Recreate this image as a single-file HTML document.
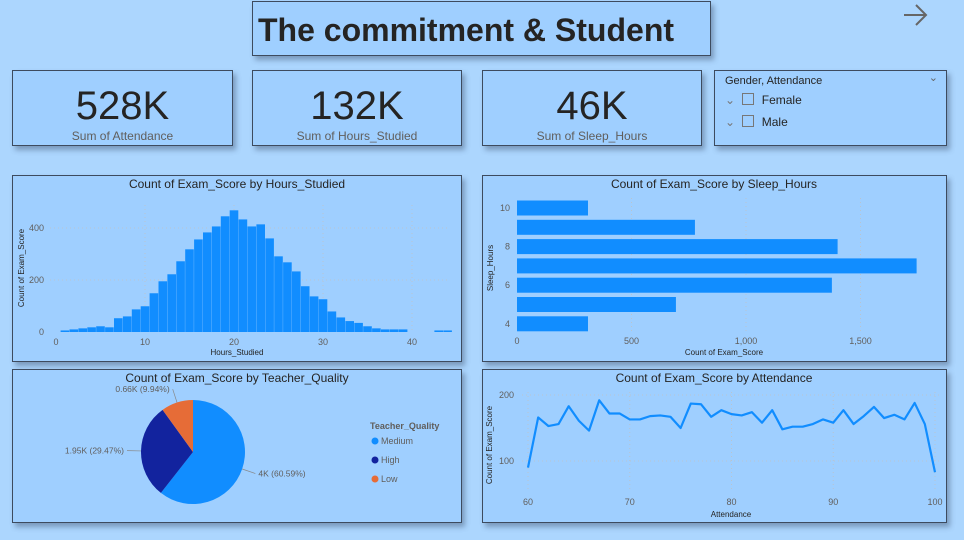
<!DOCTYPE html>
<html><head><meta charset="utf-8"><style>
body{margin:0;width:964px;height:540px;background:#acd6fe;font-family:"Liberation Sans",sans-serif;position:relative;overflow:hidden}
.card{position:absolute;background:#9fcfff;border:1px solid #3d4b5f;box-sizing:border-box;box-shadow:3px 4px 5px rgba(60,80,110,.45)}
.kpi{text-align:center}
.kpi .v{font-size:40px;color:#252423;margin-top:12px;line-height:46px}
.kpi .l{font-size:12px;color:#605e5c;margin-top:0px}
svg text{font-family:"Liberation Sans",sans-serif}
</style></head><body>
<div class="card" style="left:252px;top:1px;width:459px;height:55px;">
<div style="font-size:32px;font-weight:bold;color:#252423;padding:10px 0 0 5px;">The commitment &amp; Student</div></div>
<svg style="position:absolute;left:902px;top:4px" width="26" height="22"><path d="M2 11H24M14 1L24 11L14 21" fill="none" stroke="#666" stroke-width="2"/></svg>
<div class="card kpi" style="left:12px;top:70px;width:221px;height:76px"><div class="v">528K</div><div class="l">Sum of Attendance</div></div>
<div class="card kpi" style="left:252px;top:70px;width:210px;height:76px"><div class="v">132K</div><div class="l">Sum of Hours_Studied</div></div>
<div class="card kpi" style="left:482px;top:70px;width:220px;height:76px"><div class="v">46K</div><div class="l">Sum of Sleep_Hours</div></div>
<div class="card" style="left:714px;top:70px;width:233px;height:76px;font-size:11px;color:#252423">
<div style="position:absolute;left:10px;top:4px">Gender, Attendance</div>
<div style="position:absolute;right:8px;top:0px;color:#666">⌄</div>
<div style="position:absolute;left:10px;top:22px;font-size:12px"><span style="color:#777">⌄</span> <span style="display:inline-block;width:10px;height:10px;border:1px solid #777;vertical-align:-1px;margin:0 4px"></span> Female</div>
<div style="position:absolute;left:10px;top:44px;font-size:12px"><span style="color:#777">⌄</span> <span style="display:inline-block;width:10px;height:10px;border:1px solid #777;vertical-align:-1px;margin:0 4px"></span> Male</div>
</div>

<div class="card" style="left:12px;top:175px;width:450px;height:187px"></div>
<div class="card" style="left:482px;top:175px;width:465px;height:187px"></div>
<div class="card" style="left:12px;top:369px;width:450px;height:154px"></div>
<div class="card" style="left:482px;top:369px;width:465px;height:154px"></div>

<svg id="s" width="964" height="540" style="position:absolute;left:0;top:0"></svg>
<script>
const histHours=[1,2,3,4,5,6,7,8,9,10,11,12,13,14,15,16,17,18,19,20,21,22,23,24,25,26,27,28,29,30,31,32,33,34,35,36,37,38,39,43,44];
const histCounts=[6,10,14,18,22,18,53,60,87,99,149,195,222,272,318,356,383,406,445,468,433,406,414,360,291,268,233,176,137,126,79,56,42,35,22,14,10,10,10,6,6];
const histXTicks=[0,10,20,30,40];
const histYTicks=[0,200,400];
const sleepHours=[10,9,8,7,6,5,4];
const sleepCounts=[310,777,1400,1745,1375,694,310];
const sleepXTicks=[0,500,1000,1500];
const sleepXLabels=["0","500","1,000","1,500"];
const sleepYTicks=[10,8,6,4];
const attendance=[60,61,62,63,64,65,66,67,68,69,70,71,72,73,74,75,76,77,78,79,80,81,82,83,84,85,86,87,88,89,90,91,92,93,94,95,96,97,98,99,100];
const attCounts=[90,166,153,156,183,161,146,192,172,172,163,163,168,169,167,150,187,186,167,177,171,169,174,158,177,148,152,152,156,163,158,177,156,168,182,165,170,163,188,156,83];
const lineXTicks=[60,70,80,90,100];
const lineYTicks=[100,200];
const pieLabels=["Medium","High","Low"];
const pieValues=[4010,1950,658];
const pieText=["4K (60.59%)","1.95K (29.47%)","0.66K (9.94%)"];
const pieColors=["#118dff","#12239e","#e66c37"];

const s=document.getElementById('s');const NS='http://www.w3.org/2000/svg';
function el(t,a,txt){const e=document.createElementNS(NS,t);for(const k in a)e.setAttribute(k,a[k]);if(txt!==undefined)e.textContent=txt;s.appendChild(e);return e;}
const grid={stroke:'#b8c4d0','stroke-dasharray':'1,3','stroke-width':1};
const tick={fill:'#605e5c','font-size':9};
function title(x,y,t,n){const e=el('text',{x:x,y:y,'text-anchor':'middle','font-size':12,fill:'#252423'},t);

}

// Histogram
const hx=v=>56+v*8.9, hy=v=>332-v*0.26;
title(237,188,'Count of Exam_Score by Hours_Studied','hist-title');
histYTicks.forEach(t=>{if(t>0)el('line',Object.assign({x1:50,x2:450,y1:hy(t),y2:hy(t)},grid));const e=el('text',Object.assign({x:44,y:hy(t)+3,'text-anchor':'end'},tick),t);

});
histXTicks.forEach(t=>{if(t>0)el('line',Object.assign({x1:hx(t),x2:hx(t),y1:205,y2:332},grid));const e=el('text',Object.assign({x:hx(t),y:345,'text-anchor':'middle'},tick),t);

});
histHours.forEach((h,i)=>{const b=el('rect',{x:hx(h)-4.3,y:hy(histCounts[i]),width:8.6,height:histCounts[i]*0.26,fill:'#118dff'});

});
let e1=el('text',{x:237,y:355,'text-anchor':'middle','font-size':8,fill:'#252423'},'Hours_Studied');

e1=el('text',{x:24,y:268,'text-anchor':'middle','font-size':8,fill:'#252423',transform:'rotate(-90 24 268)'},'Count of Exam_Score');


// Sleep bars
const bx=v=>517+v*0.229, by=h=>208+(10-h)*19.3;
title(714,188,'Count of Exam_Score by Sleep_Hours','sleep-title');
sleepXTicks.forEach((t,i)=>{if(t>0)el('line',Object.assign({x1:bx(t),x2:bx(t),y1:198,y2:332},grid));const e=el('text',Object.assign({x:bx(t),y:344,'text-anchor':'middle'},tick),sleepXLabels[i]);

});
sleepYTicks.forEach(t=>{const e=el('text',Object.assign({x:510,y:by(t)+3,'text-anchor':'end'},tick),t);

});
sleepHours.forEach((h,i)=>{const b=el('rect',{x:517,y:by(h)-7.5,width:sleepCounts[i]*0.229,height:15,fill:'#118dff'});

});
e1=el('text',{x:724,y:355,'text-anchor':'middle','font-size':8,fill:'#252423'},'Count of Exam_Score');

e1=el('text',{x:493,y:268,'text-anchor':'middle','font-size':8,fill:'#252423',transform:'rotate(-90 493 268)'},'Sleep_Hours');


// Pie
title(237,382,'Count of Exam_Score by Teacher_Quality','pie-title');
const cx=193,cy=452,r=52;const tot=pieValues.reduce((a,b)=>a+b,0);let ang=-Math.PI/2;
pieValues.forEach((v,i)=>{const a2=ang+v/tot*2*Math.PI;const large=(a2-ang)>Math.PI?1:0;
const p=el('path',{d:`M${cx},${cy}L${cx+r*Math.cos(ang)},${cy+r*Math.sin(ang)}A${r},${r} 0 ${large} 1 ${cx+r*Math.cos(a2)},${cy+r*Math.sin(a2)}Z`,fill:pieColors[i]});


const m=(ang+a2)/2;const lx=cx+(r+14)*Math.cos(m),ly=cy+(r+14)*Math.sin(m);
el('line',{x1:cx+r*Math.cos(m),y1:cy+r*Math.sin(m),x2:lx,y2:ly,stroke:'#888','stroke-width':0.7});
const t=el('text',{x:lx+(Math.cos(m)>0?3:-3),y:ly+3,'text-anchor':Math.cos(m)>0?'start':'end','font-size':8.5,fill:'#605e5c'},pieText[i]);


ang=a2;});
e1=el('text',{x:370,y:429,'font-size':9,'font-weight':'bold',fill:'#605e5c'},'Teacher_Quality');

pieLabels.forEach((l,i)=>{const c=el('circle',{cx:375,cy:441+i*19,r:3.5,fill:pieColors[i]});


const t=el('text',{x:381,y:444+i*19,'font-size':9,fill:'#605e5c'},l);

});

// Line
const lx2=v=>528+(v-60)*10.175, ly2=v=>461-(v-100)*0.66;
title(714,382,'Count of Exam_Score by Attendance','line-title');
lineYTicks.forEach(t=>{el('line',Object.assign({x1:522,x2:940,y1:ly2(t),y2:ly2(t)},grid));const e=el('text',Object.assign({x:514,y:ly2(t)+3,'text-anchor':'end'},tick),t);

});
lineXTicks.forEach(t=>{el('line',Object.assign({x1:lx2(t),x2:lx2(t),y1:392,y2:492},grid));const e=el('text',Object.assign({x:lx2(t),y:505,'text-anchor':'middle'},tick),t);

});
const pl=el('polyline',{points:attendance.map((a,i)=>lx2(a)+','+ly2(attCounts[i])).join(' '),fill:'none',stroke:'#118dff','stroke-width':2.2,'stroke-linejoin':'round'});


e1=el('text',{x:731,y:517,'text-anchor':'middle','font-size':8,fill:'#252423'},'Attendance');

e1=el('text',{x:492,y:445,'text-anchor':'middle','font-size':8,fill:'#252423',transform:'rotate(-90 492 445)'},'Count of Exam_Score');

</script>
</body></html>
